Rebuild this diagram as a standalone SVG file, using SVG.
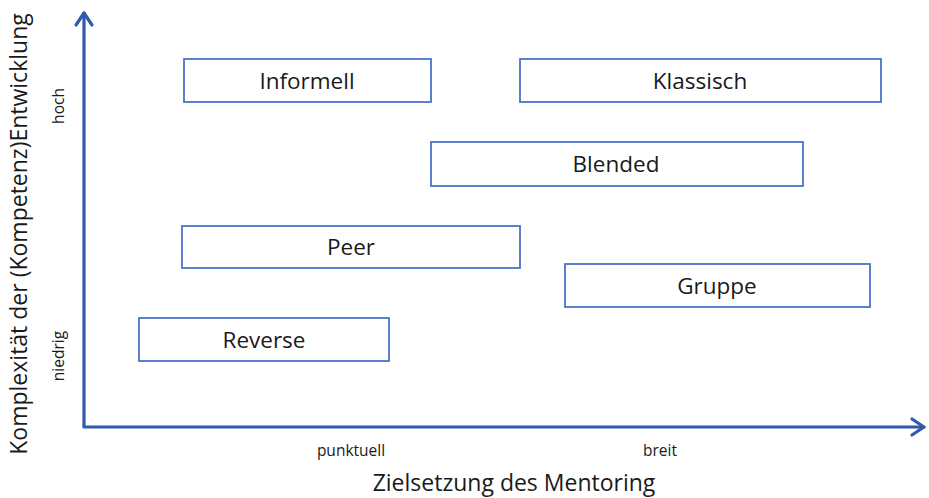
<svg xmlns="http://www.w3.org/2000/svg" width="929" height="498" viewBox="0 0 929 498">
<style>
.box{fill:#fff;stroke:#4a74c9;stroke-width:1.8}
.lbl{font-family:"Open Sans","Liberation Sans",sans-serif;font-size:22.5px;fill:#1a1a1a;text-anchor:middle}
.sm{font-family:"Open Sans","Liberation Sans",sans-serif;font-size:15.5px;fill:#1a1a1a;text-anchor:middle}
.ax{font-family:"Open Sans","Liberation Sans",sans-serif;font-size:23px;fill:#1a1a1a;text-anchor:middle}
.axis{fill:none;stroke:#2f5aae;stroke-width:3.2;stroke-linecap:round;stroke-linejoin:round}
</style>
<rect width="929" height="498" fill="#fff"/>
<g id="connectors">
<path class="axis" d="M84,426 L84,13"/>
<path class="axis" d="M76,25 L84,13 L92,25"/>
<path class="axis" d="M84,427 L924,427"/>
<path class="axis" d="M912,419 L924,427 L912,435"/>
</g>
<g id="informell"><rect class="box" x="184" y="59" width="247" height="43"/><text class="lbl" x="307" y="89">Informell</text></g>
<g id="klassisch"><rect class="box" x="520" y="59" width="361" height="43"/><text class="lbl" x="700" y="89">Klassisch</text></g>
<g id="blended"><rect class="box" x="431" y="142" width="372" height="44"/><text class="lbl" x="616" y="172">Blended</text></g>
<g id="peer"><rect class="box" x="182" y="226" width="338" height="42"/><text class="lbl" x="351" y="255">Peer</text></g>
<g id="gruppe"><rect class="box" x="565" y="264" width="305" height="43"/><text class="lbl" x="717" y="294">Gruppe</text></g>
<g id="reverse"><rect class="box" x="139" y="318" width="250" height="43"/><text class="lbl" x="264" y="348">Reverse</text></g>
<g id="labels">
<text class="sm" x="351" y="456">punktuell</text>
<text class="sm" x="660" y="456">breit</text>
<text class="ax" x="514" y="491">Zielsetzung des Mentoring</text>
<text class="ax" transform="translate(27,234) rotate(-90)">Komplexität der (Kompetenz)Entwicklung</text>
<text class="sm" transform="translate(64,106) rotate(-90)">hoch</text>
<text class="sm" transform="translate(64,356) rotate(-90)">niedrig</text>
</g>
</svg>
